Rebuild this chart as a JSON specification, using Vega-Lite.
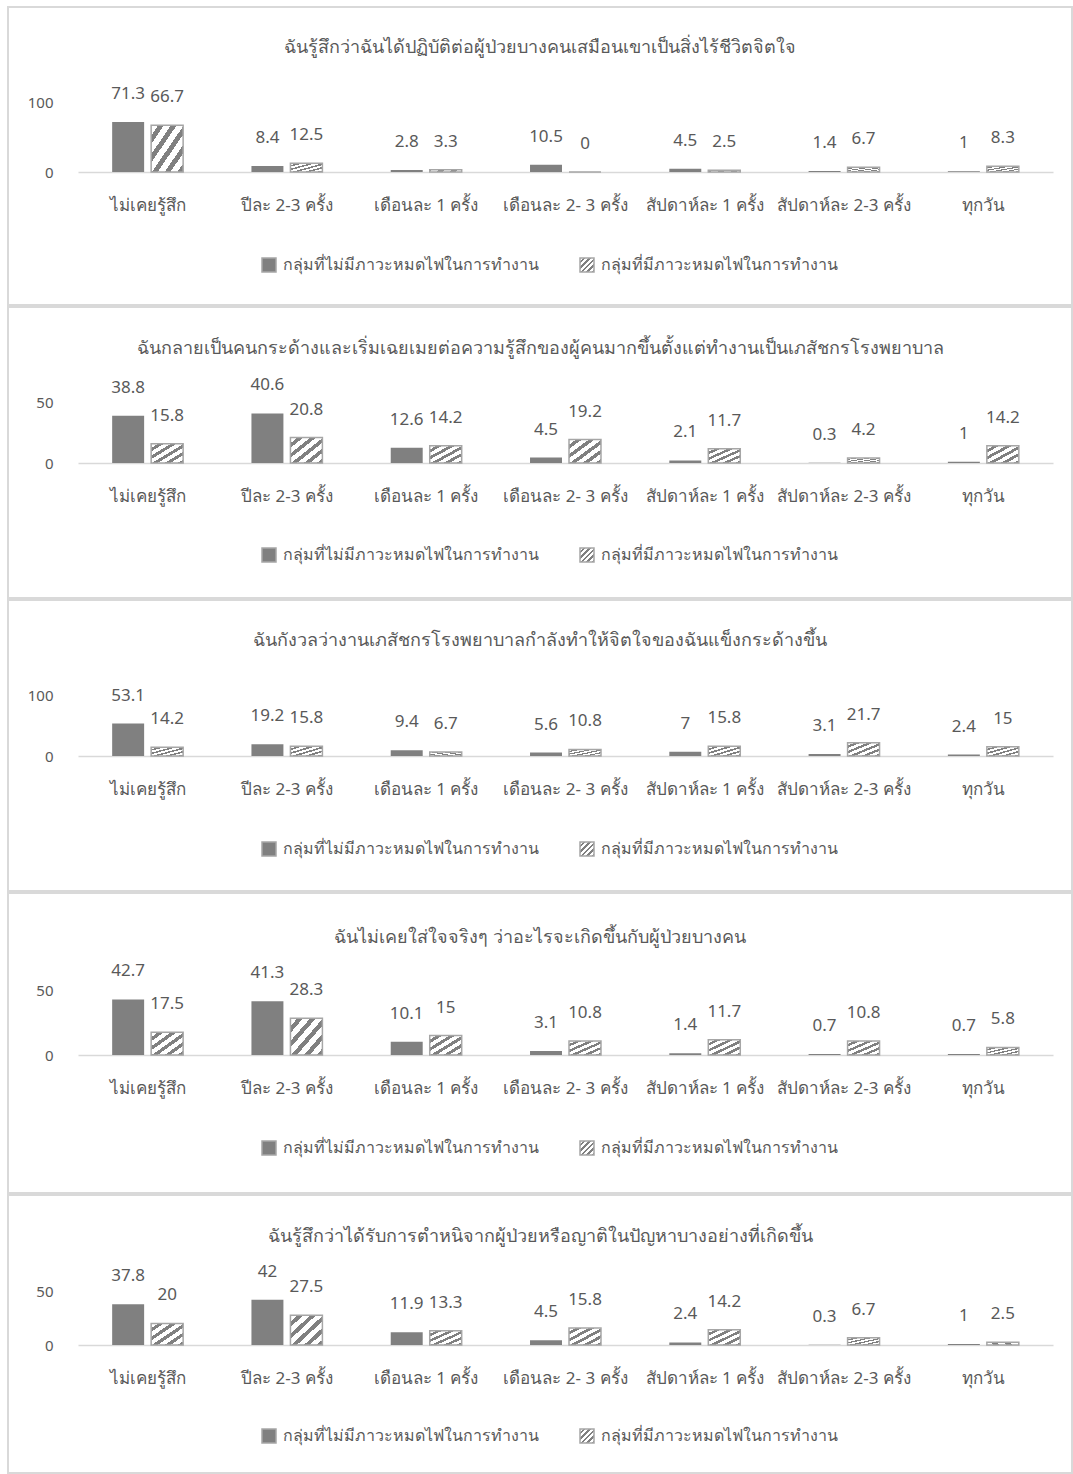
{
  "$schema": "https://vega.github.io/schema/vega-lite/v6.json",
  "padding": {"left": 7, "top": 6, "right": 0, "bottom": 0},
  "background": "#ffffff",
  "spacing": 0,
  "config": {
    "font": "Noto Sans, DejaVu Sans, sans-serif",
    "view": {"stroke": "#d9d9d9", "strokeWidth": 2},
    "axis": {"grid": false, "ticks": false, "title": null, "labelColor": "#595959", "labelFontSize": 15, "labelFont": "Noto Sans, DejaVu Sans, sans-serif"},
    "axisX": {"labelFontSize": 17},
    "title": {"fontSize": 18, "fontWeight": "normal", "color": "#595959", "anchor": "middle", "baseline": "middle", "font": "Noto Sans, DejaVu Sans, sans-serif"},
    "legend": {"labelFont": "Noto Sans, DejaVu Sans, sans-serif", "orient": "none", "legendX": 253, "direction": "horizontal", "columns": 2, "title": null, "symbolType": "square", "symbolSize": 196, "symbolStrokeColor": "#a6a6a6", "symbolStrokeWidth": 1.5, "labelFontSize": 16, "labelColor": "#595959", "labelLimit": 400, "labelOffset": 6, "columnPadding": 38, "padding": 0}
  },
  "resolve": {
    "scale": {"x": "independent", "y": "independent", "xOffset": "independent", "fill": "independent", "stroke": "independent"},
    "axis": {"x": "independent", "y": "independent"},
    "legend": {"fill": "independent"}
  },
  "datasets": {
    "p1": [
      {"cat": "ไม่เคยรู้สึก", "group": "กลุ่มที่ไม่มีภาวะหมดไฟในการทำงาน", "value": 71.3},
      {"cat": "ไม่เคยรู้สึก", "group": "กลุ่มที่มีภาวะหมดไฟในการทำงาน", "value": 66.7},
      {"cat": "ปีละ 2-3 ครั้ง", "group": "กลุ่มที่ไม่มีภาวะหมดไฟในการทำงาน", "value": 8.4},
      {"cat": "ปีละ 2-3 ครั้ง", "group": "กลุ่มที่มีภาวะหมดไฟในการทำงาน", "value": 12.5},
      {"cat": "เดือนละ 1 ครั้ง", "group": "กลุ่มที่ไม่มีภาวะหมดไฟในการทำงาน", "value": 2.8},
      {"cat": "เดือนละ 1 ครั้ง", "group": "กลุ่มที่มีภาวะหมดไฟในการทำงาน", "value": 3.3},
      {"cat": "เดือนละ 2- 3 ครั้ง", "group": "กลุ่มที่ไม่มีภาวะหมดไฟในการทำงาน", "value": 10.5},
      {"cat": "เดือนละ 2- 3 ครั้ง", "group": "กลุ่มที่มีภาวะหมดไฟในการทำงาน", "value": 0},
      {"cat": "สัปดาห์ละ 1 ครั้ง", "group": "กลุ่มที่ไม่มีภาวะหมดไฟในการทำงาน", "value": 4.5},
      {"cat": "สัปดาห์ละ 1 ครั้ง", "group": "กลุ่มที่มีภาวะหมดไฟในการทำงาน", "value": 2.5},
      {"cat": "สัปดาห์ละ 2-3 ครั้ง", "group": "กลุ่มที่ไม่มีภาวะหมดไฟในการทำงาน", "value": 1.4},
      {"cat": "สัปดาห์ละ 2-3 ครั้ง", "group": "กลุ่มที่มีภาวะหมดไฟในการทำงาน", "value": 6.7},
      {"cat": "ทุกวัน", "group": "กลุ่มที่ไม่มีภาวะหมดไฟในการทำงาน", "value": 1},
      {"cat": "ทุกวัน", "group": "กลุ่มที่มีภาวะหมดไฟในการทำงาน", "value": 8.3}
    ],
    "p2": [
      {"cat": "ไม่เคยรู้สึก", "group": "กลุ่มที่ไม่มีภาวะหมดไฟในการทำงาน", "value": 38.8},
      {"cat": "ไม่เคยรู้สึก", "group": "กลุ่มที่มีภาวะหมดไฟในการทำงาน", "value": 15.8},
      {"cat": "ปีละ 2-3 ครั้ง", "group": "กลุ่มที่ไม่มีภาวะหมดไฟในการทำงาน", "value": 40.6},
      {"cat": "ปีละ 2-3 ครั้ง", "group": "กลุ่มที่มีภาวะหมดไฟในการทำงาน", "value": 20.8},
      {"cat": "เดือนละ 1 ครั้ง", "group": "กลุ่มที่ไม่มีภาวะหมดไฟในการทำงาน", "value": 12.6},
      {"cat": "เดือนละ 1 ครั้ง", "group": "กลุ่มที่มีภาวะหมดไฟในการทำงาน", "value": 14.2},
      {"cat": "เดือนละ 2- 3 ครั้ง", "group": "กลุ่มที่ไม่มีภาวะหมดไฟในการทำงาน", "value": 4.5},
      {"cat": "เดือนละ 2- 3 ครั้ง", "group": "กลุ่มที่มีภาวะหมดไฟในการทำงาน", "value": 19.2},
      {"cat": "สัปดาห์ละ 1 ครั้ง", "group": "กลุ่มที่ไม่มีภาวะหมดไฟในการทำงาน", "value": 2.1},
      {"cat": "สัปดาห์ละ 1 ครั้ง", "group": "กลุ่มที่มีภาวะหมดไฟในการทำงาน", "value": 11.7},
      {"cat": "สัปดาห์ละ 2-3 ครั้ง", "group": "กลุ่มที่ไม่มีภาวะหมดไฟในการทำงาน", "value": 0.3},
      {"cat": "สัปดาห์ละ 2-3 ครั้ง", "group": "กลุ่มที่มีภาวะหมดไฟในการทำงาน", "value": 4.2},
      {"cat": "ทุกวัน", "group": "กลุ่มที่ไม่มีภาวะหมดไฟในการทำงาน", "value": 1},
      {"cat": "ทุกวัน", "group": "กลุ่มที่มีภาวะหมดไฟในการทำงาน", "value": 14.2}
    ],
    "p3": [
      {"cat": "ไม่เคยรู้สึก", "group": "กลุ่มที่ไม่มีภาวะหมดไฟในการทำงาน", "value": 53.1},
      {"cat": "ไม่เคยรู้สึก", "group": "กลุ่มที่มีภาวะหมดไฟในการทำงาน", "value": 14.2},
      {"cat": "ปีละ 2-3 ครั้ง", "group": "กลุ่มที่ไม่มีภาวะหมดไฟในการทำงาน", "value": 19.2},
      {"cat": "ปีละ 2-3 ครั้ง", "group": "กลุ่มที่มีภาวะหมดไฟในการทำงาน", "value": 15.8},
      {"cat": "เดือนละ 1 ครั้ง", "group": "กลุ่มที่ไม่มีภาวะหมดไฟในการทำงาน", "value": 9.4},
      {"cat": "เดือนละ 1 ครั้ง", "group": "กลุ่มที่มีภาวะหมดไฟในการทำงาน", "value": 6.7},
      {"cat": "เดือนละ 2- 3 ครั้ง", "group": "กลุ่มที่ไม่มีภาวะหมดไฟในการทำงาน", "value": 5.6},
      {"cat": "เดือนละ 2- 3 ครั้ง", "group": "กลุ่มที่มีภาวะหมดไฟในการทำงาน", "value": 10.8},
      {"cat": "สัปดาห์ละ 1 ครั้ง", "group": "กลุ่มที่ไม่มีภาวะหมดไฟในการทำงาน", "value": 7},
      {"cat": "สัปดาห์ละ 1 ครั้ง", "group": "กลุ่มที่มีภาวะหมดไฟในการทำงาน", "value": 15.8},
      {"cat": "สัปดาห์ละ 2-3 ครั้ง", "group": "กลุ่มที่ไม่มีภาวะหมดไฟในการทำงาน", "value": 3.1},
      {"cat": "สัปดาห์ละ 2-3 ครั้ง", "group": "กลุ่มที่มีภาวะหมดไฟในการทำงาน", "value": 21.7},
      {"cat": "ทุกวัน", "group": "กลุ่มที่ไม่มีภาวะหมดไฟในการทำงาน", "value": 2.4},
      {"cat": "ทุกวัน", "group": "กลุ่มที่มีภาวะหมดไฟในการทำงาน", "value": 15}
    ],
    "p4": [
      {"cat": "ไม่เคยรู้สึก", "group": "กลุ่มที่ไม่มีภาวะหมดไฟในการทำงาน", "value": 42.7},
      {"cat": "ไม่เคยรู้สึก", "group": "กลุ่มที่มีภาวะหมดไฟในการทำงาน", "value": 17.5},
      {"cat": "ปีละ 2-3 ครั้ง", "group": "กลุ่มที่ไม่มีภาวะหมดไฟในการทำงาน", "value": 41.3},
      {"cat": "ปีละ 2-3 ครั้ง", "group": "กลุ่มที่มีภาวะหมดไฟในการทำงาน", "value": 28.3},
      {"cat": "เดือนละ 1 ครั้ง", "group": "กลุ่มที่ไม่มีภาวะหมดไฟในการทำงาน", "value": 10.1},
      {"cat": "เดือนละ 1 ครั้ง", "group": "กลุ่มที่มีภาวะหมดไฟในการทำงาน", "value": 15},
      {"cat": "เดือนละ 2- 3 ครั้ง", "group": "กลุ่มที่ไม่มีภาวะหมดไฟในการทำงาน", "value": 3.1},
      {"cat": "เดือนละ 2- 3 ครั้ง", "group": "กลุ่มที่มีภาวะหมดไฟในการทำงาน", "value": 10.8},
      {"cat": "สัปดาห์ละ 1 ครั้ง", "group": "กลุ่มที่ไม่มีภาวะหมดไฟในการทำงาน", "value": 1.4},
      {"cat": "สัปดาห์ละ 1 ครั้ง", "group": "กลุ่มที่มีภาวะหมดไฟในการทำงาน", "value": 11.7},
      {"cat": "สัปดาห์ละ 2-3 ครั้ง", "group": "กลุ่มที่ไม่มีภาวะหมดไฟในการทำงาน", "value": 0.7},
      {"cat": "สัปดาห์ละ 2-3 ครั้ง", "group": "กลุ่มที่มีภาวะหมดไฟในการทำงาน", "value": 10.8},
      {"cat": "ทุกวัน", "group": "กลุ่มที่ไม่มีภาวะหมดไฟในการทำงาน", "value": 0.7},
      {"cat": "ทุกวัน", "group": "กลุ่มที่มีภาวะหมดไฟในการทำงาน", "value": 5.8}
    ],
    "p5": [
      {"cat": "ไม่เคยรู้สึก", "group": "กลุ่มที่ไม่มีภาวะหมดไฟในการทำงาน", "value": 37.8},
      {"cat": "ไม่เคยรู้สึก", "group": "กลุ่มที่มีภาวะหมดไฟในการทำงาน", "value": 20},
      {"cat": "ปีละ 2-3 ครั้ง", "group": "กลุ่มที่ไม่มีภาวะหมดไฟในการทำงาน", "value": 42},
      {"cat": "ปีละ 2-3 ครั้ง", "group": "กลุ่มที่มีภาวะหมดไฟในการทำงาน", "value": 27.5},
      {"cat": "เดือนละ 1 ครั้ง", "group": "กลุ่มที่ไม่มีภาวะหมดไฟในการทำงาน", "value": 11.9},
      {"cat": "เดือนละ 1 ครั้ง", "group": "กลุ่มที่มีภาวะหมดไฟในการทำงาน", "value": 13.3},
      {"cat": "เดือนละ 2- 3 ครั้ง", "group": "กลุ่มที่ไม่มีภาวะหมดไฟในการทำงาน", "value": 4.5},
      {"cat": "เดือนละ 2- 3 ครั้ง", "group": "กลุ่มที่มีภาวะหมดไฟในการทำงาน", "value": 15.8},
      {"cat": "สัปดาห์ละ 1 ครั้ง", "group": "กลุ่มที่ไม่มีภาวะหมดไฟในการทำงาน", "value": 2.4},
      {"cat": "สัปดาห์ละ 1 ครั้ง", "group": "กลุ่มที่มีภาวะหมดไฟในการทำงาน", "value": 14.2},
      {"cat": "สัปดาห์ละ 2-3 ครั้ง", "group": "กลุ่มที่ไม่มีภาวะหมดไฟในการทำงาน", "value": 0.3},
      {"cat": "สัปดาห์ละ 2-3 ครั้ง", "group": "กลุ่มที่มีภาวะหมดไฟในการทำงาน", "value": 6.7},
      {"cat": "ทุกวัน", "group": "กลุ่มที่ไม่มีภาวะหมดไฟในการทำงาน", "value": 1},
      {"cat": "ทุกวัน", "group": "กลุ่มที่มีภาวะหมดไฟในการทำงาน", "value": 2.5}
    ]
  },
  "vconcat": [
    {
      "width": 1064, "height": 298,
      "data": {"name": "p1"},
      "title": {"text": "ฉันรู้สึกว่าฉันได้ปฏิบัติต่อผู้ป่วยบางคนเสมือนเขาเป็นสิ่งไร้ชีวิตจิตใจ", "offset": -50},
      "encoding": {
        "x": {"field": "cat", "type": "nominal", "sort": ["ไม่เคยรู้สึก", "ปีละ 2-3 ครั้ง", "เดือนละ 1 ครั้ง", "เดือนละ 2- 3 ครั้ง", "สัปดาห์ละ 1 ครั้ง", "สัปดาห์ละ 2-3 ครั้ง", "ทุกวัน"], "scale": {"range": [70, 1045], "paddingInner": 0, "paddingOuter": 0}, "axis": {"orient": "bottom", "offset": -133, "labelAngle": 0, "labelBaseline": "middle", "labelPadding": 33, "domainColor": "#d9d9d9", "domainWidth": 1.5}},
        "xOffset": {"field": "group", "type": "nominal", "sort": ["กลุ่มที่ไม่มีภาวะหมดไฟในการทำงาน", "กลุ่มที่มีภาวะหมดไฟในการทำงาน"], "scale": {"paddingInner": 0.18, "paddingOuter": 0.876}},
        "y": {"field": "value", "type": "quantitative", "scale": {"domain": [0, 100], "range": [165, 95], "nice": false}, "axis": {"values": [0, 100], "domain": false, "offset": -45, "labelPadding": 0}}
      },
      "layer": [
        {
          "mark": {"type": "bar", "strokeWidth": 1.5},
          "encoding": {
            "fill": {"field": "group", "type": "nominal", "sort": ["กลุ่มที่ไม่มีภาวะหมดไฟในการทำงาน", "กลุ่มที่มีภาวะหมดไฟในการทำงาน"],
              "scale": {"domain": ["กลุ่มที่ไม่มีภาวะหมดไฟในการทำงาน", "กลุ่มที่มีภาวะหมดไฟในการทำงาน"], "range": ["#808080", {"expr": "{gradient: 'linear', x1: 0, y1: 0, x2: 1, y2: 1, stops: [{offset: 0, color: '#ffffff'}, {offset: 0.11, color: '#ffffff'}, {offset: 0.11, color: '#808080'}, {offset: 0.2, color: '#808080'}, {offset: 0.2, color: '#ffffff'}, {offset: 0.31, color: '#ffffff'}, {offset: 0.31, color: '#808080'}, {offset: 0.4, color: '#808080'}, {offset: 0.4, color: '#ffffff'}, {offset: 0.51, color: '#ffffff'}, {offset: 0.51, color: '#808080'}, {offset: 0.6, color: '#808080'}, {offset: 0.6, color: '#ffffff'}, {offset: 0.71, color: '#ffffff'}, {offset: 0.71, color: '#808080'}, {offset: 0.8, color: '#808080'}, {offset: 0.8, color: '#ffffff'}, {offset: 0.91, color: '#ffffff'}, {offset: 0.91, color: '#808080'}, {offset: 1, color: '#808080'}]}"}]},
              "legend": {"legendY": 250}},
            "stroke": {"condition": {"test": "datum.group === 'กลุ่มที่มีภาวะหมดไฟในการทำงาน'", "value": "#a6a6a6"}, "value": null}
          }
        },
        {
          "mark": {"type": "text", "dy": -28, "baseline": "middle", "fontSize": 17, "color": "#595959"},
          "encoding": {"text": {"field": "value", "type": "quantitative"}}
        }
      ]
    },
    {
      "width": 1064, "height": 291,
      "data": {"name": "p2"},
      "title": {"text": "ฉันกลายเป็นคนกระด้างและเริ่มเฉยเมยต่อความรู้สึกของผู้คนมากขึ้นตั้งแต่ทำงานเป็นเภสัชกรโรงพยาบาล", "offset": -51},
      "encoding": {
        "x": {"field": "cat", "type": "nominal", "sort": ["ไม่เคยรู้สึก", "ปีละ 2-3 ครั้ง", "เดือนละ 1 ครั้ง", "เดือนละ 2- 3 ครั้ง", "สัปดาห์ละ 1 ครั้ง", "สัปดาห์ละ 2-3 ครั้ง", "ทุกวัน"], "scale": {"range": [70, 1045], "paddingInner": 0, "paddingOuter": 0}, "axis": {"orient": "bottom", "offset": -135, "labelAngle": 0, "labelBaseline": "middle", "labelPadding": 33, "domainColor": "#d9d9d9", "domainWidth": 1.5}},
        "xOffset": {"field": "group", "type": "nominal", "sort": ["กลุ่มที่ไม่มีภาวะหมดไฟในการทำงาน", "กลุ่มที่มีภาวะหมดไฟในการทำงาน"], "scale": {"paddingInner": 0.18, "paddingOuter": 0.876}},
        "y": {"field": "value", "type": "quantitative", "scale": {"domain": [0, 50], "range": [156, 95], "nice": false}, "axis": {"values": [0, 50], "domain": false, "offset": -45, "labelPadding": 0}}
      },
      "layer": [
        {
          "mark": {"type": "bar", "strokeWidth": 1.5},
          "encoding": {
            "fill": {"field": "group", "type": "nominal", "sort": ["กลุ่มที่ไม่มีภาวะหมดไฟในการทำงาน", "กลุ่มที่มีภาวะหมดไฟในการทำงาน"],
              "scale": {"domain": ["กลุ่มที่ไม่มีภาวะหมดไฟในการทำงาน", "กลุ่มที่มีภาวะหมดไฟในการทำงาน"], "range": ["#808080", {"expr": "{gradient: 'linear', x1: 0, y1: 0, x2: 1, y2: 1, stops: [{offset: 0, color: '#ffffff'}, {offset: 0.11, color: '#ffffff'}, {offset: 0.11, color: '#808080'}, {offset: 0.2, color: '#808080'}, {offset: 0.2, color: '#ffffff'}, {offset: 0.31, color: '#ffffff'}, {offset: 0.31, color: '#808080'}, {offset: 0.4, color: '#808080'}, {offset: 0.4, color: '#ffffff'}, {offset: 0.51, color: '#ffffff'}, {offset: 0.51, color: '#808080'}, {offset: 0.6, color: '#808080'}, {offset: 0.6, color: '#ffffff'}, {offset: 0.71, color: '#ffffff'}, {offset: 0.71, color: '#808080'}, {offset: 0.8, color: '#808080'}, {offset: 0.8, color: '#ffffff'}, {offset: 0.91, color: '#ffffff'}, {offset: 0.91, color: '#808080'}, {offset: 1, color: '#808080'}]}"}]},
              "legend": {"legendY": 240}},
            "stroke": {"condition": {"test": "datum.group === 'กลุ่มที่มีภาวะหมดไฟในการทำงาน'", "value": "#a6a6a6"}, "value": null}
          }
        },
        {
          "mark": {"type": "text", "dy": -28, "baseline": "middle", "fontSize": 17, "color": "#595959"},
          "encoding": {"text": {"field": "value", "type": "quantitative"}}
        }
      ]
    },
    {
      "width": 1064, "height": 291,
      "data": {"name": "p3"},
      "title": {"text": "ฉันกังวลว่างานเภสัชกรโรงพยาบาลกำลังทำให้จิตใจของฉันแข็งกระด้างขึ้น", "offset": -50},
      "encoding": {
        "x": {"field": "cat", "type": "nominal", "sort": ["ไม่เคยรู้สึก", "ปีละ 2-3 ครั้ง", "เดือนละ 1 ครั้ง", "เดือนละ 2- 3 ครั้ง", "สัปดาห์ละ 1 ครั้ง", "สัปดาห์ละ 2-3 ครั้ง", "ทุกวัน"], "scale": {"range": [70, 1045], "paddingInner": 0, "paddingOuter": 0}, "axis": {"orient": "bottom", "offset": -135, "labelAngle": 0, "labelBaseline": "middle", "labelPadding": 33, "domainColor": "#d9d9d9", "domainWidth": 1.5}},
        "xOffset": {"field": "group", "type": "nominal", "sort": ["กลุ่มที่ไม่มีภาวะหมดไฟในการทำงาน", "กลุ่มที่มีภาวะหมดไฟในการทำงาน"], "scale": {"paddingInner": 0.18, "paddingOuter": 0.876}},
        "y": {"field": "value", "type": "quantitative", "scale": {"domain": [0, 100], "range": [156, 95], "nice": false}, "axis": {"values": [0, 100], "domain": false, "offset": -45, "labelPadding": 0}}
      },
      "layer": [
        {
          "mark": {"type": "bar", "strokeWidth": 1.5},
          "encoding": {
            "fill": {"field": "group", "type": "nominal", "sort": ["กลุ่มที่ไม่มีภาวะหมดไฟในการทำงาน", "กลุ่มที่มีภาวะหมดไฟในการทำงาน"],
              "scale": {"domain": ["กลุ่มที่ไม่มีภาวะหมดไฟในการทำงาน", "กลุ่มที่มีภาวะหมดไฟในการทำงาน"], "range": ["#808080", {"expr": "{gradient: 'linear', x1: 0, y1: 0, x2: 1, y2: 1, stops: [{offset: 0, color: '#ffffff'}, {offset: 0.11, color: '#ffffff'}, {offset: 0.11, color: '#808080'}, {offset: 0.2, color: '#808080'}, {offset: 0.2, color: '#ffffff'}, {offset: 0.31, color: '#ffffff'}, {offset: 0.31, color: '#808080'}, {offset: 0.4, color: '#808080'}, {offset: 0.4, color: '#ffffff'}, {offset: 0.51, color: '#ffffff'}, {offset: 0.51, color: '#808080'}, {offset: 0.6, color: '#808080'}, {offset: 0.6, color: '#ffffff'}, {offset: 0.71, color: '#ffffff'}, {offset: 0.71, color: '#808080'}, {offset: 0.8, color: '#808080'}, {offset: 0.8, color: '#ffffff'}, {offset: 0.91, color: '#ffffff'}, {offset: 0.91, color: '#808080'}, {offset: 1, color: '#808080'}]}"}]},
              "legend": {"legendY": 241}},
            "stroke": {"condition": {"test": "datum.group === 'กลุ่มที่มีภาวะหมดไฟในการทำงาน'", "value": "#a6a6a6"}, "value": null}
          }
        },
        {
          "mark": {"type": "text", "dy": -28, "baseline": "middle", "fontSize": 17, "color": "#595959"},
          "encoding": {"text": {"field": "value", "type": "quantitative"}}
        }
      ]
    },
    {
      "width": 1064, "height": 300,
      "data": {"name": "p4"},
      "title": {"text": "ฉันไม่เคยใส่ใจจริงๆ ว่าอะไรจะเกิดขึ้นกับผู้ป่วยบางคน", "offset": -54},
      "encoding": {
        "x": {"field": "cat", "type": "nominal", "sort": ["ไม่เคยรู้สึก", "ปีละ 2-3 ครั้ง", "เดือนละ 1 ครั้ง", "เดือนละ 2- 3 ครั้ง", "สัปดาห์ละ 1 ครั้ง", "สัปดาห์ละ 2-3 ครั้ง", "ทุกวัน"], "scale": {"range": [70, 1045], "paddingInner": 0, "paddingOuter": 0}, "axis": {"orient": "bottom", "offset": -138, "labelAngle": 0, "labelBaseline": "middle", "labelPadding": 33, "domainColor": "#d9d9d9", "domainWidth": 1.5}},
        "xOffset": {"field": "group", "type": "nominal", "sort": ["กลุ่มที่ไม่มีภาวะหมดไฟในการทำงาน", "กลุ่มที่มีภาวะหมดไฟในการทำงาน"], "scale": {"paddingInner": 0.18, "paddingOuter": 0.876}},
        "y": {"field": "value", "type": "quantitative", "scale": {"domain": [0, 50], "range": [162, 97], "nice": false}, "axis": {"values": [0, 50], "domain": false, "offset": -45, "labelPadding": 0}}
      },
      "layer": [
        {
          "mark": {"type": "bar", "strokeWidth": 1.5},
          "encoding": {
            "fill": {"field": "group", "type": "nominal", "sort": ["กลุ่มที่ไม่มีภาวะหมดไฟในการทำงาน", "กลุ่มที่มีภาวะหมดไฟในการทำงาน"],
              "scale": {"domain": ["กลุ่มที่ไม่มีภาวะหมดไฟในการทำงาน", "กลุ่มที่มีภาวะหมดไฟในการทำงาน"], "range": ["#808080", {"expr": "{gradient: 'linear', x1: 0, y1: 0, x2: 1, y2: 1, stops: [{offset: 0, color: '#ffffff'}, {offset: 0.11, color: '#ffffff'}, {offset: 0.11, color: '#808080'}, {offset: 0.2, color: '#808080'}, {offset: 0.2, color: '#ffffff'}, {offset: 0.31, color: '#ffffff'}, {offset: 0.31, color: '#808080'}, {offset: 0.4, color: '#808080'}, {offset: 0.4, color: '#ffffff'}, {offset: 0.51, color: '#ffffff'}, {offset: 0.51, color: '#808080'}, {offset: 0.6, color: '#808080'}, {offset: 0.6, color: '#ffffff'}, {offset: 0.71, color: '#ffffff'}, {offset: 0.71, color: '#808080'}, {offset: 0.8, color: '#808080'}, {offset: 0.8, color: '#ffffff'}, {offset: 0.91, color: '#ffffff'}, {offset: 0.91, color: '#808080'}, {offset: 1, color: '#808080'}]}"}]},
              "legend": {"legendY": 247}},
            "stroke": {"condition": {"test": "datum.group === 'กลุ่มที่มีภาวะหมดไฟในการทำงาน'", "value": "#a6a6a6"}, "value": null}
          }
        },
        {
          "mark": {"type": "text", "dy": -28, "baseline": "middle", "fontSize": 17, "color": "#595959"},
          "encoding": {"text": {"field": "value", "type": "quantitative"}}
        }
      ]
    },
    {
      "width": 1064, "height": 278,
      "data": {"name": "p5"},
      "title": {"text": "ฉันรู้สึกว่าได้รับการตำหนิจากผู้ป่วยหรือญาติในปัญหาบางอย่างที่เกิดขึ้น", "offset": -51},
      "encoding": {
        "x": {"field": "cat", "type": "nominal", "sort": ["ไม่เคยรู้สึก", "ปีละ 2-3 ครั้ง", "เดือนละ 1 ครั้ง", "เดือนละ 2- 3 ครั้ง", "สัปดาห์ละ 1 ครั้ง", "สัปดาห์ละ 2-3 ครั้ง", "ทุกวัน"], "scale": {"range": [70, 1045], "paddingInner": 0, "paddingOuter": 0}, "axis": {"orient": "bottom", "offset": -128, "labelAngle": 0, "labelBaseline": "middle", "labelPadding": 33, "domainColor": "#d9d9d9", "domainWidth": 1.5}},
        "xOffset": {"field": "group", "type": "nominal", "sort": ["กลุ่มที่ไม่มีภาวะหมดไฟในการทำงาน", "กลุ่มที่มีภาวะหมดไฟในการทำงาน"], "scale": {"paddingInner": 0.18, "paddingOuter": 0.876}},
        "y": {"field": "value", "type": "quantitative", "scale": {"domain": [0, 50], "range": [150, 96], "nice": false}, "axis": {"values": [0, 50], "domain": false, "offset": -45, "labelPadding": 0}}
      },
      "layer": [
        {
          "mark": {"type": "bar", "strokeWidth": 1.5},
          "encoding": {
            "fill": {"field": "group", "type": "nominal", "sort": ["กลุ่มที่ไม่มีภาวะหมดไฟในการทำงาน", "กลุ่มที่มีภาวะหมดไฟในการทำงาน"],
              "scale": {"domain": ["กลุ่มที่ไม่มีภาวะหมดไฟในการทำงาน", "กลุ่มที่มีภาวะหมดไฟในการทำงาน"], "range": ["#808080", {"expr": "{gradient: 'linear', x1: 0, y1: 0, x2: 1, y2: 1, stops: [{offset: 0, color: '#ffffff'}, {offset: 0.11, color: '#ffffff'}, {offset: 0.11, color: '#808080'}, {offset: 0.2, color: '#808080'}, {offset: 0.2, color: '#ffffff'}, {offset: 0.31, color: '#ffffff'}, {offset: 0.31, color: '#808080'}, {offset: 0.4, color: '#808080'}, {offset: 0.4, color: '#ffffff'}, {offset: 0.51, color: '#ffffff'}, {offset: 0.51, color: '#808080'}, {offset: 0.6, color: '#808080'}, {offset: 0.6, color: '#ffffff'}, {offset: 0.71, color: '#ffffff'}, {offset: 0.71, color: '#808080'}, {offset: 0.8, color: '#808080'}, {offset: 0.8, color: '#ffffff'}, {offset: 0.91, color: '#ffffff'}, {offset: 0.91, color: '#808080'}, {offset: 1, color: '#808080'}]}"}]},
              "legend": {"legendY": 233}},
            "stroke": {"condition": {"test": "datum.group === 'กลุ่มที่มีภาวะหมดไฟในการทำงาน'", "value": "#a6a6a6"}, "value": null}
          }
        },
        {
          "mark": {"type": "text", "dy": -28, "baseline": "middle", "fontSize": 17, "color": "#595959"},
          "encoding": {"text": {"field": "value", "type": "quantitative"}}
        }
      ]
    }
  ]
}
